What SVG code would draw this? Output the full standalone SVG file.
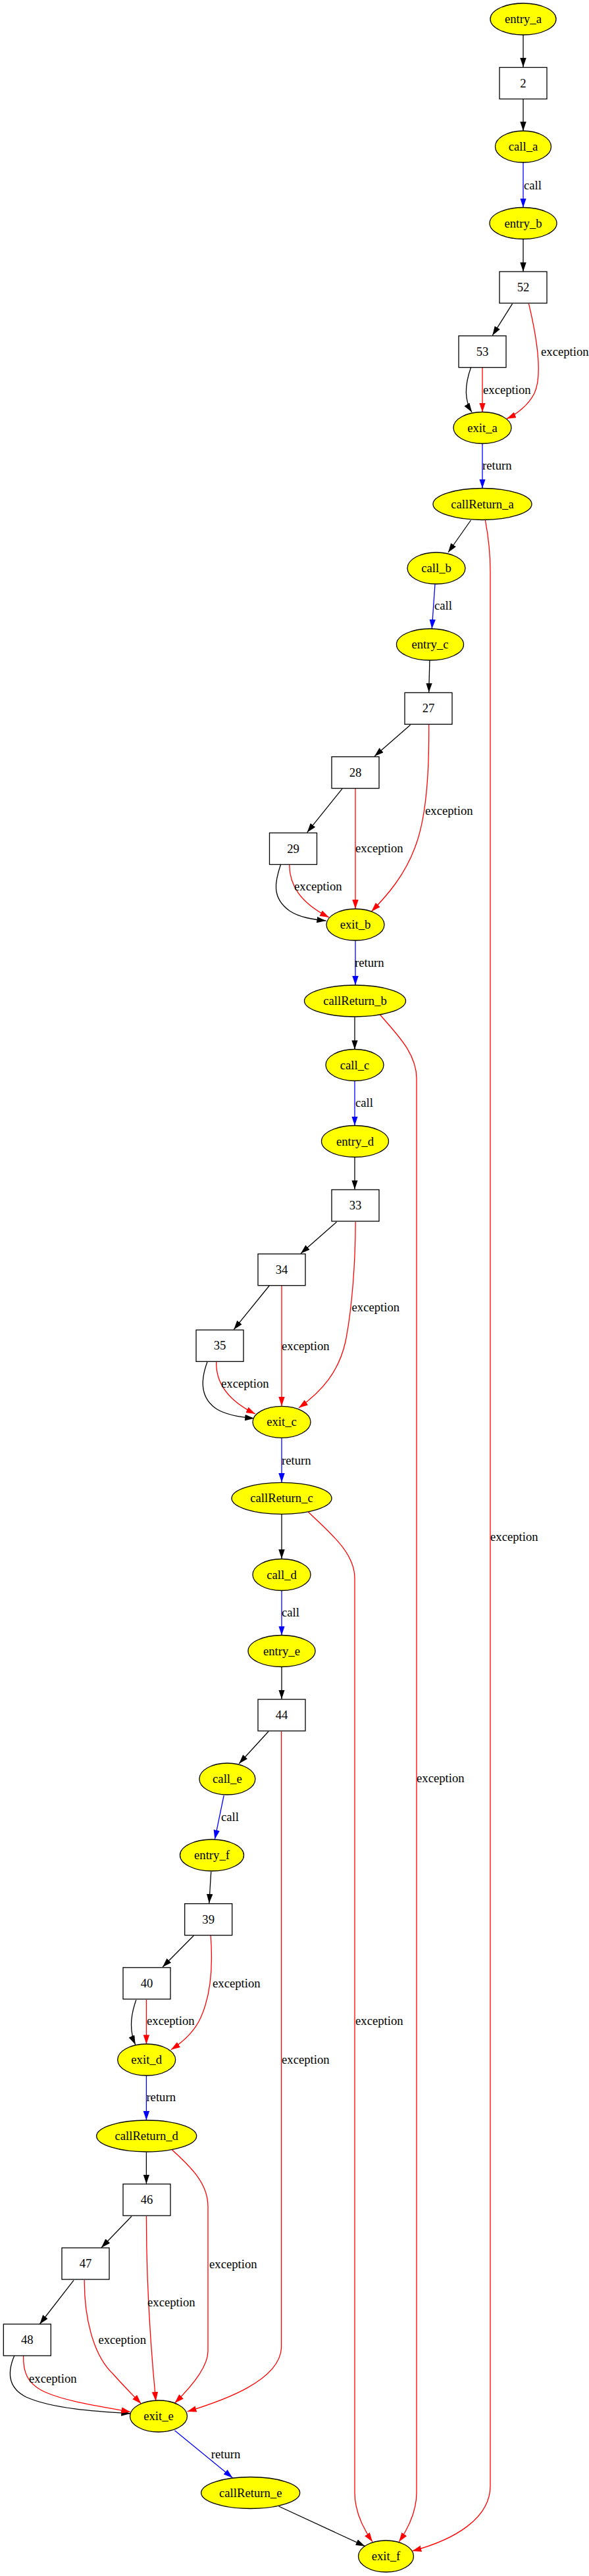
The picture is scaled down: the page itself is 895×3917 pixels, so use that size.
<svg xmlns="http://www.w3.org/2000/svg" width="895" height="3917" viewBox="0 0 895 3917">
<style>
text{font-family:"Liberation Serif","Times New Roman",serif;font-size:18.7px;fill:#000}
.n text{text-anchor:middle}
.el{fill:#ffff00;stroke:#000;stroke-width:1.3}
.bx{fill:#fff;stroke:#000;stroke-width:1.3}
.e path{fill:none;stroke-width:1.3}
.k{stroke:#000;marker-end:url(#ak)}
.b{stroke:#0000ff;marker-end:url(#ab)}
.r{stroke:#ff0000;marker-end:url(#ar)}
</style>
<defs>
<marker id="ak" markerUnits="userSpaceOnUse" markerWidth="14" markerHeight="10" refX="14" refY="4.7" orient="auto"><path d="M0,0 L14,4.7 L0,9.4 z" fill="#000"/></marker>
<marker id="ab" markerUnits="userSpaceOnUse" markerWidth="14" markerHeight="10" refX="14" refY="4.7" orient="auto"><path d="M0,0 L14,4.7 L0,9.4 z" fill="#0000ff"/></marker>
<marker id="ar" markerUnits="userSpaceOnUse" markerWidth="14" markerHeight="10" refX="14" refY="4.7" orient="auto"><path d="M0,0 L14,4.7 L0,9.4 z" fill="#ff0000"/></marker>
</defs>
<rect width="895" height="3917" fill="#fff"/>
<g id="connectors" class="e">
<path class="k" d="M795,53 L795,102"/>
<path class="k" d="M795,151 L795,199"/>
<path class="b" d="M795,247 L795,315.5"/>
<path class="k" d="M795,363.5 L795,413"/>
<path class="k" d="M778.7,461.7 L748.3,510"/>
<path class="r" d="M803.4,461.7 C815,510 825,570 812,598 C803,616 785,630 770,636.7"/>
<path class="k" d="M715.5,559 C708,580 703,605 717,626.7"/>
<path class="r" d="M733,559 L733,626.7"/>
<path class="b" d="M733,674.5 L733,742.5"/>
<path class="k" d="M715.5,791 L681,840"/>
<path class="r" d="M737.4,791 C742,815 745,840 745,870 L745,3780 C745,3830 690,3862 626.4,3879"/>
<path class="b" d="M661,888 L656.3,956"/>
<path class="k" d="M652.9,1004.3 L651.7,1052.7"/>
<path class="k" d="M623.6,1102.3 L569,1150"/>
<path class="r" d="M651.7,1102 C652,1160 650,1240 630,1290 C615,1330 590,1360 564.4,1386"/>
<path class="r" d="M540,1199 L540,1382"/>
<path class="k" d="M520,1199.3 L466.7,1265.7"/>
<path class="k" d="M426.4,1315 C418,1340 412,1365 440,1385 C455,1395 475,1398 495.4,1400"/>
<path class="r" d="M439.7,1315 C440,1345 455,1372 500,1395"/>
<path class="b" d="M540,1430.3 L540,1498"/>
<path class="k" d="M539,1546.7 L539,1595.7"/>
<path class="r" d="M577.6,1543 C600,1570 633,1600 633,1640 L633,3790 C633,3820 620,3845 606.3,3865"/>
<path class="b" d="M539,1643.5 L539,1711.5"/>
<path class="k" d="M539,1759.5 L539,1808.5"/>
<path class="k" d="M511.5,1858 L457,1906"/>
<path class="r" d="M540.2,1858 C540,1920 535,1990 525,2040 C515,2085 490,2115 454,2140.7"/>
<path class="r" d="M428,1955 L428,2138"/>
<path class="k" d="M409.2,1955 L355.2,2021.7"/>
<path class="k" d="M315,2071 C306,2095 302,2125 330,2143 C345,2152 365,2155 386.2,2156.7"/>
<path class="r" d="M328.7,2071 C328,2100 343,2128 388,2150"/>
<path class="b" d="M428,2186.7 L428,2254"/>
<path class="k" d="M428,2303 L428,2370"/>
<path class="r" d="M468.4,2299 C500,2330 539,2360 539,2400 L539,3790 C539,3820 552,3845 566,3865"/>
<path class="b" d="M428,2418.5 L428,2486.5"/>
<path class="k" d="M428,2534.5 L428,2583.5"/>
<path class="k" d="M408,2632.7 L363.2,2681.7"/>
<path class="r" d="M427.6,2633 L427.6,3570 C425,3620 340,3650 284.5,3667"/>
<path class="b" d="M340.2,2730 L326.4,2796.7"/>
<path class="k" d="M320.7,2846 L317.8,2894"/>
<path class="k" d="M294.3,2943.3 L247.1,2991"/>
<path class="r" d="M320.1,2943 C323,2980 322,3030 305,3068 C295,3090 278,3105 259.8,3116.7"/>
<path class="k" d="M206.9,3041 C200,3060 195,3085 205.7,3109"/>
<path class="r" d="M222.4,3040.7 L222.4,3108.3"/>
<path class="b" d="M222.4,3156 L222.4,3224"/>
<path class="k" d="M222.4,3272.7 L222.4,3320.7"/>
<path class="r" d="M261.5,3269 C290,3295 316,3320 316,3355 L316,3575 C316,3600 290,3630 265.5,3654"/>
<path class="k" d="M200,3370 L154,3417.7"/>
<path class="r" d="M222.4,3370 C222.4,3470 228,3560 236.8,3651"/>
<path class="k" d="M112,3467.3 L60.3,3534"/>
<path class="r" d="M128.2,3467 C128,3520 140,3580 172,3610 C185,3625 200,3640 214.4,3655"/>
<path class="k" d="M21.8,3582 C12,3605 10,3630 40,3645 C80,3663 150,3667 198.3,3670"/>
<path class="r" d="M35.6,3582 C35,3605 40,3625 70,3638 C105,3653 160,3660 198.3,3667.7"/>
<path class="b" d="M265.5,3695.7 L353.4,3767.7"/>
<path class="k" d="M423.6,3811 L554.6,3871.7"/>
<text x="796" y="288">call</text>
<text x="822" y="541">exception</text>
<text x="734" y="599">exception</text>
<text x="733" y="714">return</text>
<text x="745" y="2343">exception</text>
<text x="660" y="927">call</text>
<text x="646" y="1239">exception</text>
<text x="540" y="1296">exception</text>
<text x="447" y="1354">exception</text>
<text x="539" y="1470">return</text>
<text x="633" y="2710">exception</text>
<text x="540" y="1683">call</text>
<text x="534.5" y="1994">exception</text>
<text x="428" y="2053">exception</text>
<text x="336" y="2110">exception</text>
<text x="428" y="2227">return</text>
<text x="540" y="3079">exception</text>
<text x="428" y="2458">call</text>
<text x="428" y="3138">exception</text>
<text x="336" y="2769">call</text>
<text x="323" y="3022">exception</text>
<text x="223" y="3079">exception</text>
<text x="222.4" y="3195">return</text>
<text x="318" y="3449">exception</text>
<text x="224" y="3507">exception</text>
<text x="149.4" y="3564">exception</text>
<text x="44" y="3623">exception</text>
<text x="320.7" y="3738">return</text>
</g>
<g id="entry_a" class="n"><ellipse class="el" cx="795" cy="29" rx="50" ry="24"/><text x="795" y="35">entry_a</text></g>
<g id="n2" class="n"><rect class="bx" x="759" y="102.5" width="72" height="48"/><text x="795" y="132.5">2</text></g>
<g id="call_a" class="n"><ellipse class="el" cx="795" cy="223" rx="42.5" ry="24"/><text x="795" y="229">call_a</text></g>
<g id="entry_b" class="n"><ellipse class="el" cx="795" cy="339.5" rx="51" ry="24"/><text x="795" y="345.5">entry_b</text></g>
<g id="n52" class="n"><rect class="bx" x="759" y="413" width="72" height="48"/><text x="795" y="443">52</text></g>
<g id="n53" class="n"><rect class="bx" x="697" y="510.7" width="72" height="48"/><text x="733" y="540.7">53</text></g>
<g id="exit_a" class="n"><ellipse class="el" cx="733" cy="650.5" rx="44" ry="24"/><text x="733" y="656.5">exit_a</text></g>
<g id="callReturn_a" class="n"><ellipse class="el" cx="733" cy="766.5" rx="75" ry="24"/><text x="733" y="772.5">callReturn_a</text></g>
<g id="call_b" class="n"><ellipse class="el" cx="663" cy="864" rx="44" ry="24"/><text x="663" y="870">call_b</text></g>
<g id="entry_c" class="n"><ellipse class="el" cx="653.5" cy="980" rx="51" ry="24"/><text x="653.5" y="986">entry_c</text></g>
<g id="n27" class="n"><rect class="bx" x="615" y="1053.3" width="72" height="48"/><text x="651" y="1083.3">27</text></g>
<g id="n28" class="n"><rect class="bx" x="504" y="1150.7" width="72" height="48"/><text x="540" y="1180.7">28</text></g>
<g id="n29" class="n"><rect class="bx" x="409.5" y="1266.5" width="72" height="48"/><text x="445.5" y="1296.5">29</text></g>
<g id="exit_b" class="n"><ellipse class="el" cx="540" cy="1406" rx="44" ry="24"/><text x="540" y="1412">exit_b</text></g>
<g id="callReturn_b" class="n"><ellipse class="el" cx="539.5" cy="1522" rx="77" ry="24"/><text x="539.5" y="1528">callReturn_b</text></g>
<g id="call_c" class="n"><ellipse class="el" cx="539" cy="1619.5" rx="44" ry="24"/><text x="539" y="1625.5">call_c</text></g>
<g id="entry_d" class="n"><ellipse class="el" cx="539.5" cy="1735.5" rx="51" ry="24"/><text x="539.5" y="1741.5">entry_d</text></g>
<g id="n33" class="n"><rect class="bx" x="504" y="1809" width="72" height="48"/><text x="540" y="1839">33</text></g>
<g id="n34" class="n"><rect class="bx" x="392" y="1906.7" width="72" height="48"/><text x="428" y="1936.7">34</text></g>
<g id="n35" class="n"><rect class="bx" x="298" y="2022.3" width="72" height="48"/><text x="334" y="2052.3">35</text></g>
<g id="exit_c" class="n"><ellipse class="el" cx="428" cy="2162.3" rx="44" ry="24"/><text x="428" y="2168.3">exit_c</text></g>
<g id="callReturn_c" class="n"><ellipse class="el" cx="428" cy="2278.3" rx="76" ry="24"/><text x="428" y="2284.3">callReturn_c</text></g>
<g id="call_d" class="n"><ellipse class="el" cx="428" cy="2394.5" rx="44" ry="24"/><text x="428" y="2400.5">call_d</text></g>
<g id="entry_e" class="n"><ellipse class="el" cx="428" cy="2510.5" rx="51" ry="24"/><text x="428" y="2516.5">entry_e</text></g>
<g id="n44" class="n"><rect class="bx" x="392" y="2584" width="72" height="48"/><text x="428" y="2614">44</text></g>
<g id="call_e" class="n"><ellipse class="el" cx="345.4" cy="2705" rx="42.5" ry="24"/><text x="345.4" y="2711">call_e</text></g>
<g id="entry_f" class="n"><ellipse class="el" cx="322" cy="2821" rx="48.5" ry="24"/><text x="322" y="2827">entry_f</text></g>
<g id="n39" class="n"><rect class="bx" x="280.7" y="2894.7" width="72" height="48"/><text x="316.7" y="2924.7">39</text></g>
<g id="n40" class="n"><rect class="bx" x="187" y="2991.8" width="72" height="48"/><text x="223" y="3021.8">40</text></g>
<g id="exit_d" class="n"><ellipse class="el" cx="222.7" cy="3132" rx="44" ry="24"/><text x="222.7" y="3138">exit_d</text></g>
<g id="callReturn_d" class="n"><ellipse class="el" cx="222.7" cy="3248" rx="76" ry="24"/><text x="222.7" y="3254">callReturn_d</text></g>
<g id="n46" class="n"><rect class="bx" x="187" y="3321" width="72" height="48"/><text x="223" y="3351">46</text></g>
<g id="n47" class="n"><rect class="bx" x="94" y="3418" width="72" height="48"/><text x="130" y="3448">47</text></g>
<g id="n48" class="n"><rect class="bx" x="5.3" y="3534" width="72" height="48"/><text x="41.3" y="3564">48</text></g>
<g id="exit_e" class="n"><ellipse class="el" cx="241" cy="3674" rx="43.5" ry="24"/><text x="241" y="3680">exit_e</text></g>
<g id="callReturn_e" class="n"><ellipse class="el" cx="380.7" cy="3790.5" rx="75" ry="24"/><text x="380.7" y="3796.5">callReturn_e</text></g>
<g id="exit_f" class="n"><ellipse class="el" cx="586.5" cy="3887" rx="42" ry="24"/><text x="586.5" y="3893">exit_f</text></g>
</svg>
